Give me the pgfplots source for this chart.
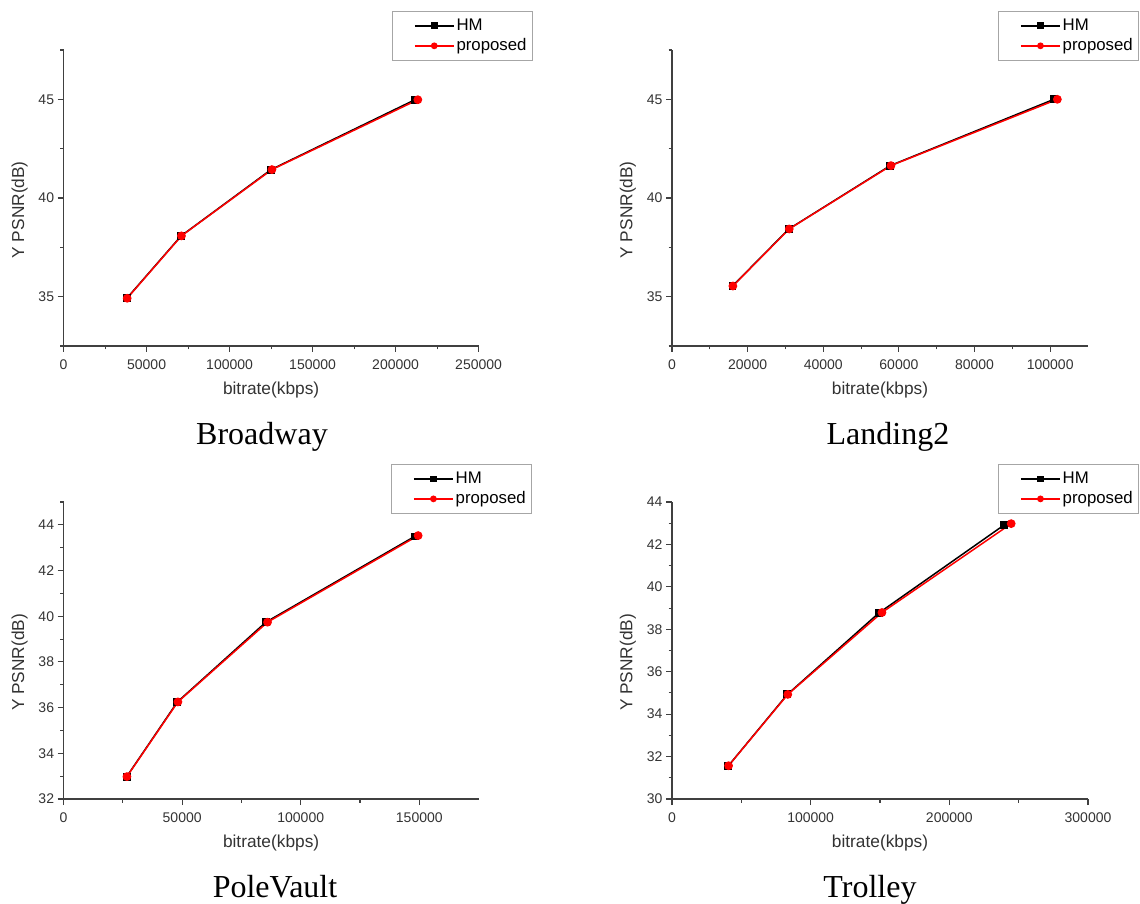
\documentclass[border=0pt]{standalone}
\usepackage{fontspec}
\setmainfont{Liberation Sans}
\newfontfamily\timesf{Liberation Serif}
\usepackage{pgfplots}
\pgfplotsset{compat=1.18}
\definecolor{axisgray}{HTML}{404040}
\definecolor{labelgray}{HTML}{333333}
\pgfplotsset{
  myaxis/.style={
    scale only axis,
    axis x line*=bottom, axis y line*=left,
    axis line style={-, line width=1.2pt, color=axisgray},
    tick align=outside, major tick length=6pt, minor tick length=3.5pt,
    every tick/.style={line width=1.1pt, color=axisgray},
    xlabel={bitrate(kbps)}, ylabel={Y PSNR(dB)},
    ticklabel style={font=\fontsize{14}{16}\selectfont, text=labelgray},
    xticklabel style={yshift=-4pt},
    xlabel style={font=\fontsize{17.3}{20}\selectfont, text=labelgray, at={(axis description cs:0.5,0)}, anchor=center, yshift=-44pt},
    ylabel style={font=\fontsize{17.3}{20}\selectfont, text=labelgray, at={(axis description cs:0,0.46)}, anchor=center, yshift=44pt},
    scaled x ticks=false, scaled y ticks=false,
    xmin=0, minor x tick num=1,
    legend style={draw=gray!70, line width=0.8pt, fill=white,
      font=\fontsize{16.8}{19}\selectfont, anchor=north east,
      inner xsep=4pt, inner ysep=4.5pt, row sep=0pt,
      nodes={text height=12.5pt, text depth=3.5pt, inner ysep=2pt, inner xsep=2pt, anchor=west}},
    legend cell align=left,
    legend image code/.code={\path (-18pt,0pt); \draw[mark repeat=2,mark phase=2,#1,mark size=2.6pt] plot coordinates {(0pt,0pt) (19.5pt,0pt) (39pt,0pt)};},
  },
  hm/.style={black, line width=1.5pt, mark=square*, mark size=3.2pt, mark options={solid}},
  prop/.style={red, line width=1.5pt, mark=*, mark size=3.6pt, mark options={solid}},
}
\begin{document}
\begin{tikzpicture}
\useasboundingbox (0pt,0pt) rectangle (1140pt,903pt);

% Broadway
\begin{axis}[myaxis, at={(63.6pt,557pt)}, anchor=south west, width=415pt, height=296pt,
  xmax=250000, xtick={0,50000,100000,150000,200000,250000},
  xticklabels={0,50000,100000,150000,200000,250000},
  ymin=32.5, ymax=47.5, ytick={35,40,45}, yticklabels={35,40,45}, minor ytick={32.5,37.5,42.5,47.5},
  legend style={at={(axis description cs:1.131,1.132)}}]
\addplot[hm] coordinates {(38100,34.92) (70800,38.08) (125000,41.44) (211700,44.98)};
\addplot[prop] coordinates {(38300,34.92) (71000,38.08) (125500,41.44) (213400,44.98)};
\legend{HM,proposed}
\end{axis}

% Landing2
\begin{axis}[myaxis, at={(672pt,557pt)}, anchor=south west, width=416pt, height=296pt,
  xmax=110000, xtick={0,20000,40000,60000,80000,100000},
  xticklabels={0,20000,40000,60000,80000,100000},
  ymin=32.5, ymax=47.5, ytick={35,40,45}, yticklabels={35,40,45}, minor ytick={32.5,37.5,42.5,47.5},
  legend style={at={(axis description cs:1.123,1.132)}}]
\addplot[hm] coordinates {(16000,35.54) (30900,38.43) (57700,41.64) (101000,45.0)};
\addplot[prop] coordinates {(16100,35.54) (31000,38.43) (57900,41.64) (101900,45.0)};
\legend{HM,proposed}
\end{axis}

% PoleVault
\begin{axis}[myaxis, at={(63.6pt,104pt)}, anchor=south west, width=415pt, height=297pt,
  xmax=175000, xtick={0,50000,100000,150000},
  xticklabels={0,50000,100000,150000},
  ymin=32, ymax=45, ytick={32,34,36,38,40,42,44}, yticklabels={32,34,36,38,40,42,44},
  minor ytick={33,35,37,39,41,43,45},
  legend style={at={(axis description cs:1.129,1.128)}}]
\addplot[hm] coordinates {(26600,32.98) (48000,36.25) (85300,39.74) (148000,43.49)};
\addplot[prop] coordinates {(26700,32.98) (48200,36.25) (86000,39.74) (149500,43.53)};
\legend{HM,proposed}
\end{axis}

% Trolley
\begin{axis}[myaxis, at={(672pt,104pt)}, anchor=south west, width=416pt, height=297pt,
  xmax=300000, xtick={0,100000,200000,300000},
  xticklabels={0,100000,200000,300000},
  ymin=30, ymax=44, ytick={30,32,34,36,38,40,42,44}, yticklabels={30,32,34,36,38,40,42,44},
  minor ytick={31,33,35,37,39,41,43},
  legend style={at={(axis description cs:1.123,1.128)}}]
\addplot[hm] coordinates {(40700,31.57) (83200,34.93) (149000,38.76) (239600,42.92)};
\addplot[prop] coordinates {(40800,31.57) (83500,34.93) (151400,38.79) (244600,42.98)};
\legend{HM,proposed}
\end{axis}

\node[font=\timesf\fontsize{32}{36}\selectfont, anchor=base] at (262pt,458pt) {Broadway};
\node[font=\timesf\fontsize{32}{36}\selectfont, anchor=base] at (888pt,458pt) {Landing2};
\node[font=\timesf\fontsize{32}{36}\selectfont, anchor=base] at (275pt,6pt) {PoleVault};
\node[font=\timesf\fontsize{32}{36}\selectfont, anchor=base] at (870pt,6pt) {Trolley};
\end{tikzpicture}
\end{document}
